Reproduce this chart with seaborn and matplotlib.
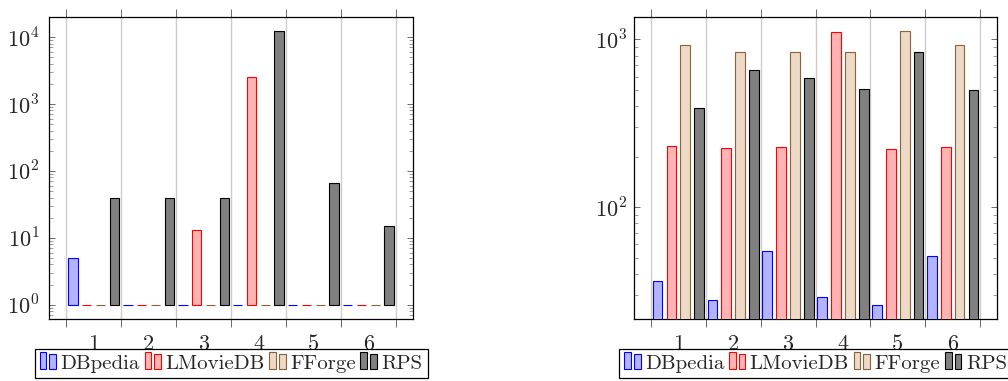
import numpy as np
import pandas as pd
import matplotlib
matplotlib.use('Agg')
import matplotlib.pyplot as plt
import matplotlib.ticker as mticker
from matplotlib.legend_handler import HandlerBase
from matplotlib.patches import Rectangle, Patch
import seaborn as sns

# categories / series
groups = ['1', '2', '3', '4', '5', '6']
datasets = ['DBpedia', 'LMovieDB', 'FForge', 'RPS']

left_dbpedia = [5, 1, 1, 1, 1, 1]
left_lmoviedb = [1, 1, 13, 2500, 1, 1]
left_fforge = [1, 1, 1, 1, 1, 1]
left_rps = [40, 40, 40, 12500, 65, 15]

right_dbpedia = [36, 28, 55, 29, 26, 51]
right_lmoviedb = [231, 226, 227, 1100, 223, 227]
right_fforge = [921, 844, 836, 844, 1120, 921]
right_rps = [389, 659, 585, 507, 840, 499]

face_colors = {'DBpedia': '#b3b3ff', 'LMovieDB': '#ffb3b3',
               'FForge': '#ecd9c6', 'RPS': '#808080'}
edge_colors = {'DBpedia': '#0000ff', 'LMovieDB': '#ff0000',
               'FForge': '#8c6239', 'RPS': '#000000'}


def long_frame(series):
    rows = []
    for name, values in zip(datasets, series):
        for g, v in zip(groups, values):
            rows.append({'group': g, 'dataset': name, 'value': v})
    return pd.DataFrame(rows)


class TwoBarHandler(HandlerBase):
    # pgfplots style ybar legend: two small bars
    def create_artists(self, legend, orig_handle, xdescent, ydescent,
                       width, height, fontsize, trans):
        bw = width * 0.4
        out = []
        for x0, h in [(0.0, 1.18 * height), (width * 0.58, 0.98 * height)]:
            r = Rectangle((x0 - xdescent, -ydescent), bw, h,
                          facecolor=orig_handle.get_facecolor(),
                          edgecolor=orig_handle.get_edgecolor(),
                          linewidth=0.8, transform=trans)
            out.append(r)
        return out


sns.set_style('white')
plt.rcParams['font.family'] = ['cmr10', 'DejaVu Serif']
plt.rcParams['mathtext.fontset'] = 'cm'
plt.rcParams['axes.formatter.use_mathtext'] = True
plt.rcParams['font.size'] = 16


def draw_panel(ax, df, ylim, ypad):
    sns.barplot(data=df, x='group', y='value', hue='dataset', order=groups,
                hue_order=datasets, palette=face_colors, saturation=1,
                width=1.012, gap=0.3, errorbar=None, log_scale=True,
                legend=False, ax=ax)
    # bars start at 10^0 like pgfplots
    for cont, name in zip(ax.containers, datasets):
        for bar in cont:
            top = bar.get_y() + bar.get_height()
            bar.set_y(1)
            bar.set_height(top - 1)
            bar.set_edgecolor(edge_colors[name])
            bar.set_linewidth(0.8)
            bar.set_zorder(3)

    ax.set_yscale('log')
    ax.set_ylim(*ylim)
    ax.set_xlim(-0.81, 5.81)
    ax.set_xlabel('')
    ax.set_ylabel('')

    ax.set_xticks(range(len(groups)))
    ax.set_xticklabels(groups)
    ax.set_xticks(np.arange(-0.5, len(groups), 1.0), minor=True)
    ax.grid(False)
    ax.grid(which='minor', axis='x', color='#cccccc', linewidth=1.0, zorder=0)
    ax.set_axisbelow(True)
    ax.tick_params(axis='x', which='major', length=0, pad=11, labelsize=16)
    ax.tick_params(axis='x', which='minor', direction='out', length=6,
                   width=0.6, color='#555555', top=True, bottom=True)

    ax.yaxis.set_major_locator(mticker.LogLocator(base=10))
    ax.yaxis.set_minor_locator(mticker.LogLocator(base=10, subs=np.arange(2, 10)))
    ax.yaxis.set_major_formatter(mticker.FuncFormatter(
        lambda v, p: r'$10^{%d}$' % int(round(np.log10(v)))))
    ax.yaxis.set_minor_formatter(mticker.NullFormatter())
    ax.tick_params(axis='y', which='major', direction='in', length=4.5,
                   width=0.6, color='#555555', left=True, right=True,
                   pad=ypad, labelsize=16)
    ax.tick_params(axis='y', which='minor', direction='in', length=3.2,
                   width=0.5, color='#777777', left=True, right=True)

    for s in ax.spines.values():
        s.set_visible(True)
        s.set_color('black')
        s.set_linewidth(0.9)

    handles = [Patch(facecolor=face_colors[n], edgecolor=edge_colors[n]) for n in datasets]
    leg = ax.legend(handles, datasets, loc='upper center',
                    bbox_to_anchor=(0.5, -0.0993), ncol=4, borderaxespad=0,
                    handler_map={Patch: TwoBarHandler()}, handlelength=0.8,
                    handletextpad=0.2, columnspacing=0.22, borderpad=0.25,
                    fancybox=False, framealpha=1, fontsize=15)
    leg.get_frame().set_edgecolor('black')
    leg.get_frame().set_linewidth(0.9)


fig = plt.figure(figsize=(10.08, 3.81), dpi=100)
ax1 = fig.add_axes([49 / 1008, 62 / 381, 364 / 1008, 302 / 381])
ax2 = fig.add_axes([634 / 1008, 62 / 381, 363 / 1008, 302 / 381])

draw_panel(ax1, long_frame([left_dbpedia, left_lmoviedb, left_fforge, left_rps]),
           (0.61, 2.0e4), 7)
draw_panel(ax2, long_frame([right_dbpedia, right_lmoviedb, right_fforge, right_rps]),
           (21.5, 1360), 5)

fig.savefig('out.png', dpi=100)
